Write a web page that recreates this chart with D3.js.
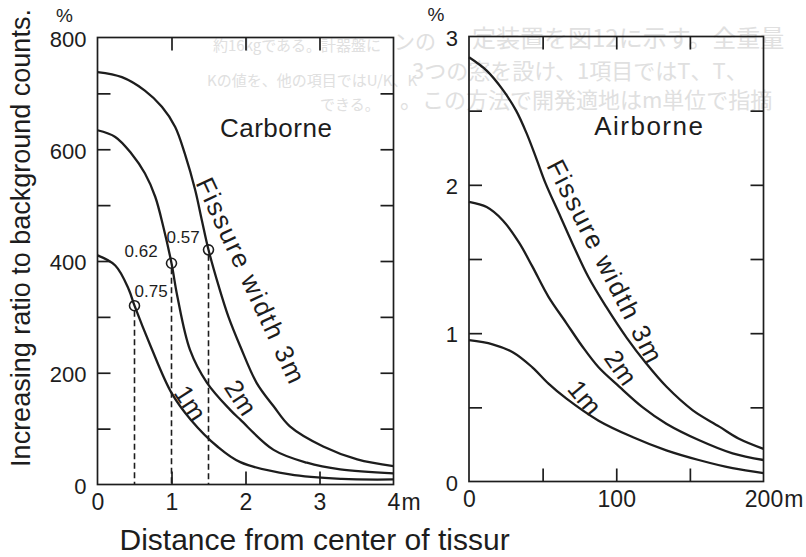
<!DOCTYPE html>
<html>
<head>
<meta charset="utf-8">
<script src="https://cdn.jsdelivr.net/npm/d3@7"></script>
<style>
  body { margin: 0; background: #fff; }
  svg { display: block; background: #fff; }
  text { font-family: "Liberation Sans", Arial, sans-serif; fill: #1d1d1d; }
  .ghost text { font-family: "Noto Sans CJK JP", sans-serif; fill: #e0e0e0; }
  .frame { fill: none; stroke: #1d1d1d; stroke-width: 1.7px; }
  .ticks line { stroke: #1d1d1d; stroke-width: 1.7px; }
  .curve { fill: none; stroke: #1d1d1d; stroke-width: 2.3px; stroke-linejoin: round; }
  .drop { stroke: #1d1d1d; stroke-width: 1.6px; stroke-dasharray: 6 3.5; }
  .mark { fill: none; stroke: #1d1d1d; stroke-width: 1.6px; }
  .lab text { font-size: 22px; }
  .lab.x text { font-size: 23px; }
  .unit { font-size: 19px; }
  .panel-title { font-size: 26px; letter-spacing: 0.5px; }
  .panel-title.air { letter-spacing: 1.5px; }
  .curve-label { font-size: 26px; }
  .fissure { font-size: 26px; letter-spacing: 1.8px; }
  .ratio-label { font-size: 17px; }
  .axis-title { font-size: 27px; }
  .axis-title.x { font-size: 30px; }
</style>
</head>
<body>
<svg id="chart" width="806" height="557"></svg>
<script>
// ---- Carborne: distance from fissure center (m) vs increasing ratio (%) ----
const carDist1m  = [0, 0.24, 0.42, 0.5, 0.72, 1.0, 1.26, 1.62, 1.93, 2.6, 3.3, 4];
const carRatio1m = [410, 392, 350, 320, 247, 164, 116, 68, 40, 18, 10, 9];

const carDist2m  = [0, 0.24, 0.46, 0.64, 0.78, 0.89, 1.0, 1.08, 1.25, 1.48, 1.79, 1.93, 2.38, 2.83, 3.28, 4];
const carRatio2m = [634, 622, 592, 557, 515, 461, 396, 336, 241, 182, 134, 116, 62, 39, 27, 20];

const carDist3m  = [0, 0.33, 0.64, 0.87, 1.05, 1.18, 1.32, 1.41, 1.5, 1.64, 1.77, 1.93, 2.15, 2.38, 2.6, 3.05, 3.51, 4];
const carRatio3m = [738, 729, 705, 676, 640, 592, 527, 473, 420, 354, 300, 247, 182, 140, 104, 68, 45, 33];

// half-width points marked with circles
const halfDist  = [0.5, 1.0, 1.5];
const halfRatio = [320, 396, 420];
const halfText  = ["0.75", "0.62", "0.57"];

// ---- Airborne: distance (m) vs increasing ratio (%) ----
const airDist1m  = [0, 16, 30, 43, 54, 66, 88, 111, 134, 156, 179, 200];
const airRatio1m = [0.953, 0.925, 0.87, 0.77, 0.66, 0.56, 0.41, 0.30, 0.21, 0.145, 0.09, 0.057];

const airDist2m  = [0, 12, 23, 34, 43, 54, 66, 77, 88, 102, 118, 134, 156, 179, 200];
const airRatio2m = [1.885, 1.85, 1.76, 1.61, 1.45, 1.245, 1.07, 0.91, 0.77, 0.64, 0.50, 0.39, 0.28, 0.19, 0.145];

const airDist3m  = [0, 12, 23, 32, 39, 46, 52, 61, 70, 81, 93, 107, 120, 134, 152, 170, 183, 200];
const airRatio3m = [2.86, 2.77, 2.64, 2.50, 2.35, 2.17, 2.01, 1.81, 1.61, 1.38, 1.18, 0.97, 0.80, 0.64, 0.48, 0.37, 0.29, 0.22];

// ---- ticks ----
const carXTicks  = [1, 2, 3];
const carXLabels = [0, 1, 2, 3, 4];
const carYTicks  = [100, 200, 300, 400, 500, 600, 700];
const carYLabels = [0, 200, 400, 600, 800];

const airXTicks  = [50, 100, 150];
const airXLabels = [0, 100, 200];
const airYTicks  = [0.5, 1, 1.5, 2, 2.5];
const airYLabels = [0, 1, 2, 3];

// ---- faint show-through text of the scanned page ----
const ghostLines = [
  {text: "約16kgである。計器盤に", x: 213, y: 51, size: 15},
  {text: "ンの", x: 394, y: 49, size: 21},
  {text: "定装置を図12に示す。全重量", x: 472, y: 47, size: 24},
  {text: "Kの値を、他の項目ではU/K、K", x: 207, y: 86, size: 15},
  {text: "3つの窓を設け、1項目ではT、T、", x: 412, y: 79, size: 22},
  {text: "できる。", x: 320, y: 110, size: 15},
  {text: "。この方法で開発適地はm単位で指摘", x: 400, y: 108, size: 22}
];

const svg = d3.select("#chart");

svg.append("g").attr("class", "ghost")
  .selectAll("text")
  .data(ghostLines)
  .join("text")
    .attr("x", d => d.x)
    .attr("y", d => d.y)
    .style("font-size", d => d.size + "px")
    .text(d => d.text);

const TICK = 13;

function drawPanel({x, y, xTicks, yTicks, xLabels, yLabels, series}) {
  const [x0, x1] = x.range();
  const [y0, y1] = y.range();
  const g = svg.append("g");

  g.append("rect")
    .attr("class", "frame")
    .attr("x", x0).attr("y", y1)
    .attr("width", x1 - x0).attr("height", y0 - y1);

  // inward ticks on all four sides
  g.append("g").attr("class", "ticks").attr("transform", `translate(${x0},0)`)
    .call(d3.axisLeft(y).tickValues(yTicks).tickSize(-TICK).tickFormat(""));
  g.append("g").attr("class", "ticks").attr("transform", `translate(${x1},0)`)
    .call(d3.axisRight(y).tickValues(yTicks).tickSize(-TICK).tickFormat(""));
  g.append("g").attr("class", "ticks").attr("transform", `translate(0,${y0})`)
    .call(d3.axisBottom(x).tickValues(xTicks).tickSize(-TICK).tickFormat(""));
  g.append("g").attr("class", "ticks").attr("transform", `translate(0,${y1})`)
    .call(d3.axisTop(x).tickValues(xTicks).tickSize(-TICK).tickFormat(""));

  // tick labels
  g.append("g").attr("class", "lab y").attr("transform", `translate(${x0},0)`)
    .call(d3.axisLeft(y).tickValues(yLabels).tickSize(0).tickPadding(11).tickFormat(d3.format("~g")))
    .selectAll("text").attr("dy", "0.4em");
  g.append("g").attr("class", "lab x").attr("transform", `translate(0,${y0})`)
    .call(d3.axisBottom(x).tickValues(xLabels).tickSize(0).tickPadding(9).tickFormat(d3.format("~g")));
  g.selectAll(".domain").remove();

  // "m" after the last distance label, number stays centred on its tick
  const last = g.selectAll(".lab.x .tick text").filter(d => d === xLabels[xLabels.length - 1]);
  const w = last.node().getComputedTextLength();
  last.attr("text-anchor", "start").attr("x", -w / 2)
    .append("tspan").attr("dx", 1).text("m");

  // "%" above the value axis
  g.append("text")
    .attr("class", "unit")
    .attr("text-anchor", "middle")
    .attr("x", x0 - 33)
    .attr("y", y1 - 15.5)
    .text("%");

  const line = d3.line()
    .x(d => x(d[0]))
    .y(d => y(d[1]))
    .curve(d3.curveCatmullRom.alpha(0.5));

  series.forEach(s => {
    g.append("path")
      .attr("class", "curve")
      .attr("d", line(d3.zip(s.dist, s.ratio)));
  });

  return g;
}

function rotLabel(g, x, y, {dist, ratio, angle, text, cls}) {
  g.append("text")
    .attr("class", cls)
    .attr("transform", `translate(${x(dist)},${y(ratio)}) rotate(${angle})`)
    .text(text);
}

// ---------- left: carborne ----------
const xCar = d3.scaleLinear().domain([0, 4]).range([97.5, 393.5]);
const yCar = d3.scaleLinear().domain([0, 800]).range([484.5, 37.5]);

const gCar = drawPanel({
  x: xCar, y: yCar,
  xTicks: carXTicks, yTicks: carYTicks,
  xLabels: carXLabels, yLabels: carYLabels,
  series: [
    {dist: carDist1m, ratio: carRatio1m},
    {dist: carDist2m, ratio: carRatio2m},
    {dist: carDist3m, ratio: carRatio3m}
  ]
});

// dashed drops and circles at the marked points
halfDist.forEach((d, i) => {
  gCar.append("line")
    .attr("class", "drop")
    .attr("x1", xCar(d)).attr("x2", xCar(d))
    .attr("y1", yCar(halfRatio[i]) + 5).attr("y2", yCar(0));
  gCar.append("circle")
    .attr("class", "mark")
    .attr("cx", xCar(d)).attr("cy", yCar(halfRatio[i]))
    .attr("r", 5);
});
const halfOffset = [[0, -9], [-47, -6], [-42, -7]];
halfText.forEach((t, i) => {
  gCar.append("text")
    .attr("class", "ratio-label")
    .attr("x", xCar(halfDist[i]) + halfOffset[i][0])
    .attr("y", yCar(halfRatio[i]) + halfOffset[i][1])
    .text(t);
});

gCar.append("text")
  .attr("class", "panel-title")
  .attr("x", xCar(1.655))
  .attr("y", yCar(622))
  .text("Carborne");

rotLabel(gCar, xCar, yCar, {dist: 1.32, ratio: 540, angle: 65, text: "Fissure width 3m", cls: "fissure"});
rotLabel(gCar, xCar, yCar, {dist: 1.70, ratio: 174, angle: 57, text: "2m", cls: "curve-label"});
rotLabel(gCar, xCar, yCar, {dist: 1.02, ratio: 164, angle: 57, text: "1m", cls: "curve-label"});

// ---------- right: airborne ----------
const xAir = d3.scaleLinear().domain([0, 200]).range([469, 763.5]);
const yAir = d3.scaleLinear().domain([0, 3]).range([481.5, 36.5]);

const gAir = drawPanel({
  x: xAir, y: yAir,
  xTicks: airXTicks, yTicks: airYTicks,
  xLabels: airXLabels, yLabels: airYLabels,
  series: [
    {dist: airDist1m, ratio: airRatio1m},
    {dist: airDist2m, ratio: airRatio2m},
    {dist: airDist3m, ratio: airRatio3m}
  ]
});

gAir.append("text")
  .attr("class", "panel-title air")
  .attr("x", xAir(85))
  .attr("y", yAir(2.336))
  .text("Airborne");

rotLabel(gAir, xAir, yAir, {dist: 52.3, ratio: 2.13, angle: 63, text: "Fissure width 3m", cls: "fissure"});
rotLabel(gAir, xAir, yAir, {dist: 91, ratio: 0.833, angle: 55, text: "2m", cls: "curve-label"});
rotLabel(gAir, xAir, yAir, {dist: 66, ratio: 0.62, angle: 50, text: "1m", cls: "curve-label"});

// ---------- axis titles ----------
svg.append("text")
  .attr("class", "axis-title y")
  .attr("text-anchor", "middle")
  .attr("transform", "translate(30,238) rotate(-90)")
  .text("Increasing ratio to background counts.");

svg.append("text")
  .attr("class", "axis-title x")
  .attr("x", xCar(0) + 22)
  .attr("y", 550)
  .text("Distance from center of tissur");
</script>
</body>
</html>
